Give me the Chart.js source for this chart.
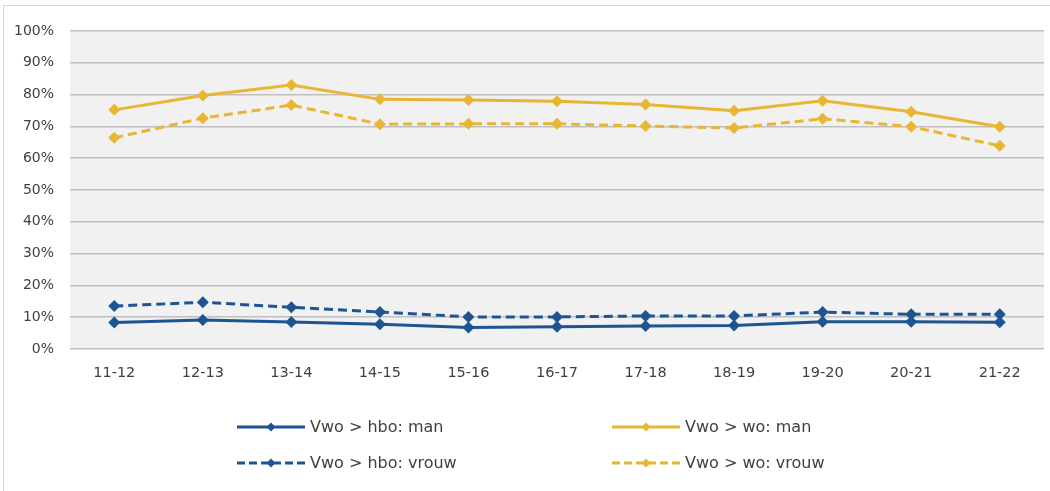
<!DOCTYPE html>
<html><head><meta charset="utf-8">
<script src="https://cdn.jsdelivr.net/npm/chart.js@4"></script>
<style>
html,body{margin:0;padding:0;background:#fff;}
#wrap{position:relative;width:1050px;height:491px;overflow:hidden;}
#frame{position:absolute;left:3px;top:5px;width:1100px;height:600px;border:1.5px solid #d6d6d6;box-sizing:border-box;}
canvas{position:absolute;left:0;top:0;}
</style></head>
<body><div id="wrap"><div id="frame"></div><canvas id="c" width="1050" height="491"></canvas></div>
<script>
const categories = ['11-12','12-13','13-14','14-15','15-16','16-17','17-18','18-19','19-20','20-21','21-22'];
const hboMan   = [0.083, 0.091, 0.085, 0.078, 0.068, 0.070, 0.072, 0.074, 0.086, 0.086, 0.084];
const woMan    = [0.752, 0.797, 0.830, 0.785, 0.783, 0.779, 0.769, 0.749, 0.781, 0.746, 0.699];
const hboVrouw = [0.135, 0.147, 0.131, 0.116, 0.101, 0.101, 0.104, 0.104, 0.116, 0.109, 0.109];
const woVrouw  = [0.664, 0.726, 0.767, 0.707, 0.708, 0.708, 0.701, 0.695, 0.724, 0.699, 0.639];
const seriesNames = ['Vwo > hbo: man','Vwo > wo: man','Vwo > hbo: vrouw','Vwo > wo: vrouw'];
const yTicks = [0,0.1,0.2,0.3,0.4,0.5,0.6,0.7,0.8,0.9,1.0];

const BLUE = '#1f5493', YELLOW = '#e8b633', TEXT = '#404040';
const FAMILY = "'DejaVu Sans', sans-serif";
const YFONT = {family: FAMILY, size: 14};
const XFONT = {family: FAMILY, size: 14.5};
const LEGEND_SIZE = 16;

function ds(label, data, color, dashed){
  return {label, data, borderColor: color, backgroundColor: color, borderWidth: 3,
    borderDash: dashed ? [9,5] : [], pointStyle: 'rectRot', pointRadius: 6,
    pointBorderWidth: 0, pointBackgroundColor: color, tension: 0, fill: false};
}

const bgPlugin = {
  id: 'plotBg',
  beforeDraw(chart){
    const {ctx, chartArea: a} = chart;
    ctx.save(); ctx.fillStyle = '#f1f1f1';
    ctx.fillRect(a.left, a.top, a.right - a.left, a.bottom - a.top);
    ctx.restore();
  }
};

const legendPlugin = {
  id: 'gridLegend',
  afterDraw(chart){
    const {ctx, chartArea: a} = chart;
    const cols = [237, 612];
    const rows = [a.bottom + 78, a.bottom + 114];
    chart.data.datasets.forEach((d, i) => {
      const x = cols[i % 2], y = rows[Math.floor(i / 2)];
      const len = 68;
      ctx.save();
      ctx.strokeStyle = d.borderColor; ctx.lineWidth = 3;
      ctx.setLineDash(d.borderDash.length ? [8,4] : []);
      ctx.beginPath(); ctx.moveTo(x, y); ctx.lineTo(x + len, y); ctx.stroke();
      ctx.setLineDash([]);
      const cx = x + len/2, r = 4.5;
      ctx.fillStyle = d.borderColor;
      ctx.beginPath(); ctx.moveTo(cx, y - r); ctx.lineTo(cx + r, y); ctx.lineTo(cx, y + r); ctx.lineTo(cx - r, y); ctx.closePath(); ctx.fill();
      ctx.fillStyle = TEXT; ctx.font = `${LEGEND_SIZE}px ${FAMILY}`;
      ctx.textBaseline = 'middle'; ctx.textAlign = 'left';
      ctx.fillText(d.label, x + len + 5, y + 1);
      ctx.restore();
    });
  }
};

new Chart(document.getElementById('c'), {
  type: 'line',
  data: {
    labels: categories,
    datasets: [
      ds(seriesNames[0], hboMan, BLUE, false),
      ds(seriesNames[1], woMan, YELLOW, false),
      ds(seriesNames[2], hboVrouw, BLUE, true),
      ds(seriesNames[3], woVrouw, YELLOW, true)
    ]
  },
  options: {
    responsive: false, animation: false, devicePixelRatio: 1,
    layout: {padding: {top: 31, left: 0, right: 1, bottom: 102}},
    plugins: {legend: {display: false}, tooltip: {enabled: false}},
    scales: {
      x: {
        offset: true,
        grid: {display: false, drawTicks: false},
        border: {display: false},
        ticks: {font: XFONT, color: TEXT, padding: 16, maxRotation: 0, autoSkip: false},
        afterFit(s){ s.height = 40; }
      },
      y: {
        min: 0, max: 1,
        afterBuildTicks(s){ s.ticks = yTicks.map(v => ({value: v})); },
        grid: {color: '#c0c0c0', lineWidth: 1.5, drawTicks: false},
        border: {display: false},
        ticks: {font: YFONT, color: TEXT, padding: 16, callback: v => Math.round(v * 100) + '%'},
        afterFit(s){ s.width = 70; }
      }
    }
  },
  plugins: [bgPlugin, legendPlugin]
});
</script>
</body></html>
